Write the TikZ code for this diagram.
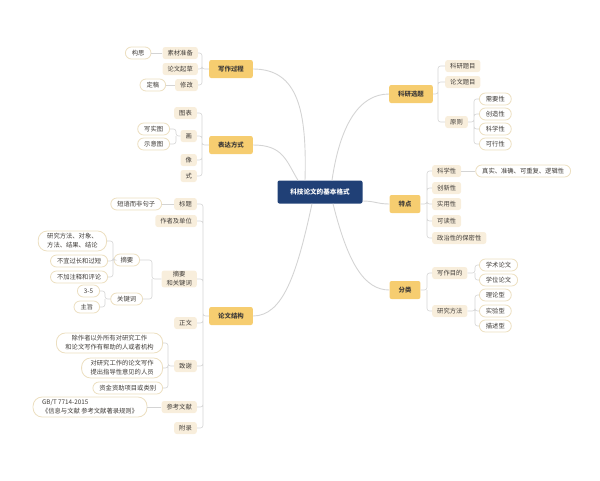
\documentclass[tikz,border=0pt]{standalone}
\usepackage{fontspec}
\setmainfont{Noto Sans CJK SC}
\usetikzlibrary{positioning,calc}
\definecolor{rootblue}{RGB}{32,64,118}
\definecolor{topicgold}{RGB}{246,205,112}
\definecolor{subbeige}{RGB}{248,238,220}
\definecolor{leafedge}{RGB}{236,223,192}
\definecolor{linkgray}{RGB}{212,212,212}
\definecolor{inkgray}{RGB}{64,60,56}

\begin{document}
\begin{tikzpicture}[x=1pt,y=-1pt,
font=\fontsize{6.3}{9}\selectfont,
rootbox/.style={fill=rootblue,text=white,rounded corners=2pt,minimum width=85pt,minimum height=23pt,font=\fontsize{6.6}{8}\selectfont\bfseries},
topicbox/.style={fill=topicgold,text=inkgray,rounded corners=2pt,minimum height=18pt,inner xsep=9pt,font=\fontsize{6.4}{8}\selectfont\bfseries},
subbox/.style={fill=subbeige,text=inkgray,rounded corners=2.5pt,minimum height=12pt,inner xsep=5pt,inner ysep=1pt,align=center},
leafbox/.style={draw=leafedge,line width=0.8pt,fill=white,text=inkgray,rounded corners=6pt,minimum height=12pt,inner xsep=6.5pt,inner ysep=1pt,align=center},
tallleaf/.style={leafbox,rounded corners=9pt,inner xsep=9pt,minimum height=20pt},
trunk/.style={draw=linkgray,line width=0.9pt},
twig/.style={draw=linkgray,line width=0.6pt,rounded corners=2.5pt}
]
\useasboundingbox (0,0) rectangle (600,480);

% centre and main topics
\node[rootbox] (root) at (320,192) {科技论文的基本格式};
\node[topicbox] (w) at (231,69) {写作过程};
\node[topicbox] (e) at (231,145) {表达方式};
\node[topicbox] (s) at (231,316) {论文结构};
\node[topicbox] (k) at (411,94) {科研选题};
\node[topicbox] (t) at (405,204) {特点};
\node[topicbox] (f) at (405,290) {分类};

\draw[trunk] (w.east) .. controls +(45,0) and +(2,-70) .. ($(root.north)+(-15,0)$);
\draw[trunk] (e.east) .. controls +(30,0) and +(-12,-20) .. ($(root.north)+(-22,0)$);
\draw[trunk] ($(root.north)+(12,0)$) .. controls +(8,-55) and +(-30,0) .. (k.west);
\draw[trunk] ($(root.east)+(0,9)$) .. controls +(12,0) and +(-12,0) .. (t.west);
\draw[trunk] ($(root.south)+(-8,0)$) .. controls +(-15,70) and +(30,0) .. (s.east);
\draw[trunk] ($(root.south)+(13,0)$) .. controls +(15,60) and +(-25,0) .. (f.west);

% 写作过程
\node[subbox, anchor=east] (w1) at (198,53) {素材准备};
\node[subbox, anchor=east] (w2) at (198,69) {论文起草};
\node[subbox, anchor=east] (w3) at (198,85) {修改};
\node[leafbox, left=11pt of w1] (w1a) {构思};
\node[leafbox, left=9pt of w3] (w3a) {定稿};
\coordinate (jw) at (202,69);
\draw[twig] (w.west) -- (jw) |- (w1.east) (jw) |- (w2.east) (jw) |- (w3.east);
\draw[twig] (w1.west) -- (w1a.east);
\draw[twig] (w3.west) -- (w3a.east);

% 表达方式
\node[subbox, anchor=east] (e1) at (197,113) {图表};
\node[subbox, anchor=east] (e2) at (197,136) {画};
\node[subbox, anchor=east] (e3) at (197,160) {像};
\node[subbox, anchor=east] (e4) at (197,176) {式};
\node[leafbox, anchor=east] (e2a) at (170,129) {写实图};
\node[leafbox, anchor=east] (e2b) at (170,144) {示意图};
\coordinate (je) at (202,145);
\coordinate (je2) at (176,136);
\draw[twig] (e.west) -- (je) |- (e1.east) (je) |- (e2.east) (je) |- (e3.east) (je) |- (e4.east);
\draw[twig] (e2.west) -- (je2) |- (e2a.east) (je2) |- (e2b.east);

% 论文结构
\node[subbox, anchor=east] (s1) at (197,204) {标题};
\node[subbox, anchor=east] (s2) at (197,221) {作者及单位};
\node[subbox, anchor=east] (s3) at (197,279) {摘要\\和关键词};
\node[subbox, anchor=east] (s4) at (197,323) {正文};
\node[subbox, anchor=east] (s5) at (197,366) {致谢};
\node[subbox, anchor=east] (s6) at (197,407) {参考文献};
\node[subbox, anchor=east] (s7) at (197,428) {附录};
\coordinate (js) at (203,316);
\draw[twig] (s.west) -- (js) |- (s1.east) (js) |- (s2.east) (js) |- (s3.east) (js) |- (s4.east)
  (js) |- (s5.east) (js) |- (s6.east) (js) |- (s7.east);

\node[leafbox, left=12pt of s1] (s1a) {短语而非句子};
\draw[twig] (s1.west) -- (s1a.east);

\node[leafbox, anchor=east] (s3a) at (140,260) {摘要};
\node[leafbox, anchor=east] (s3b) at (143,299) {关键词};
\coordinate (js3) at (152,279);
\draw[twig] (s3.west) -- (js3) |- (s3a.east) (js3) |- (s3b.east);

\node[tallleaf, anchor=east] (s3a1) at (107,241) {研究方法、对象、\\方法、结果、结论};
\node[leafbox, anchor=east] (s3a2) at (108,261) {不宜过长和过短};
\node[leafbox, anchor=east] (s3a3) at (108,277) {不加注释和评论};
\coordinate (js3a) at (113,260);
\draw[twig] (s3a.west) -- (js3a) |- (s3a1.east) (js3a) |- (s3a2.east) (js3a) |- (s3a3.east);

\node[leafbox, anchor=east] (s3b1) at (100,291) {3-5};
\node[leafbox, anchor=east] (s3b2) at (100,307) {主旨};
\coordinate (js3b) at (105,299);
\draw[twig] (s3b.west) -- (js3b) |- (s3b1.east) (js3b) |- (s3b2.east);

\node[tallleaf, anchor=east] (s5a) at (163,343) {除作者以外所有对研究工作\\和论文写作有帮助的人或者机构};
\node[tallleaf, anchor=east] (s5b) at (163,368) {对研究工作的论文写作\\提出指导性意见的人员};
\node[leafbox, anchor=east] (s5c) at (163,388) {资金资助项目或类别};
\coordinate (js5) at (168,366);
\draw[twig] (s5.west) -- (js5) |- (s5a.east) (js5) |- (s5b.east) (js5) |- (s5c.east);

\node[tallleaf, align=left, left=14pt of s6] (s6a) {GB/T 7714-2015\\《信息与文献 参考文献著录规则》};
\draw[twig] (s6.west) -- (s6a.east);

% 科研选题
\node[subbox, anchor=west] (k1) at (445,66) {科研题目};
\node[subbox, anchor=west] (k2) at (445,82) {论文题目};
\node[subbox, anchor=west] (k3) at (445,122) {原则};
\coordinate (jk) at (438,94);
\draw[twig] (k.east) -- (jk) |- (k1.west) (jk) |- (k2.west) (jk) |- (k3.west);

\node[leafbox, anchor=west] (k3a) at (479,99) {需要性};
\node[leafbox, anchor=west] (k3b) at (479,114) {创造性};
\node[leafbox, anchor=west] (k3c) at (479,129) {科学性};
\node[leafbox, anchor=west] (k3d) at (479,144) {可行性};
\coordinate (jk3) at (474,122);
\draw[twig] (k3.east) -- (jk3) |- (k3a.west) (jk3) |- (k3b.west) (jk3) |- (k3c.west) (jk3) |- (k3d.west);

% 特点
\node[subbox, anchor=west] (t1) at (432,171) {科学性};
\node[subbox, anchor=west] (t2) at (432,188) {创新性};
\node[subbox, anchor=west] (t3) at (432,204) {实用性};
\node[subbox, anchor=west] (t4) at (432,221) {可读性};
\node[subbox, anchor=west] (t5) at (432,238) {政治性的保密性};
\coordinate (jt) at (427,204);
\draw[twig] (t.east) -- (jt) |- (t1.west) (jt) |- (t2.west) (jt) |- (t3.west) (jt) |- (t4.west) (jt) |- (t5.west);

\node[leafbox, right=14pt of t1] (t1a) {真实、准确、可重复、逻辑性};
\draw[twig] (t1.east) -- (t1a.west);

% 分类
\node[subbox, anchor=west] (f1) at (432,273) {写作目的};
\node[subbox, anchor=west] (f2) at (432,311) {研究方法};
\coordinate (jf) at (427,290);
\draw[twig] (f.east) -- (jf) |- (f1.west) (jf) |- (f2.west);

\node[leafbox, anchor=west] (f1a) at (479,265) {学术论文};
\node[leafbox, anchor=west] (f1b) at (479,280) {学位论文};
\coordinate (jf1) at (475,273);
\draw[twig] (f1.east) -- (jf1) |- (f1a.west) (jf1) |- (f1b.west);

\node[leafbox, anchor=west] (f2a) at (479,295) {理论型};
\node[leafbox, anchor=west] (f2b) at (479,311) {实验型};
\node[leafbox, anchor=west] (f2c) at (479,326) {描述型};
\coordinate (jf2) at (475,311);
\draw[twig] (f2.east) -- (jf2) |- (f2a.west) (jf2) |- (f2b.west) (jf2) |- (f2c.west);
\end{tikzpicture}
\end{document}
